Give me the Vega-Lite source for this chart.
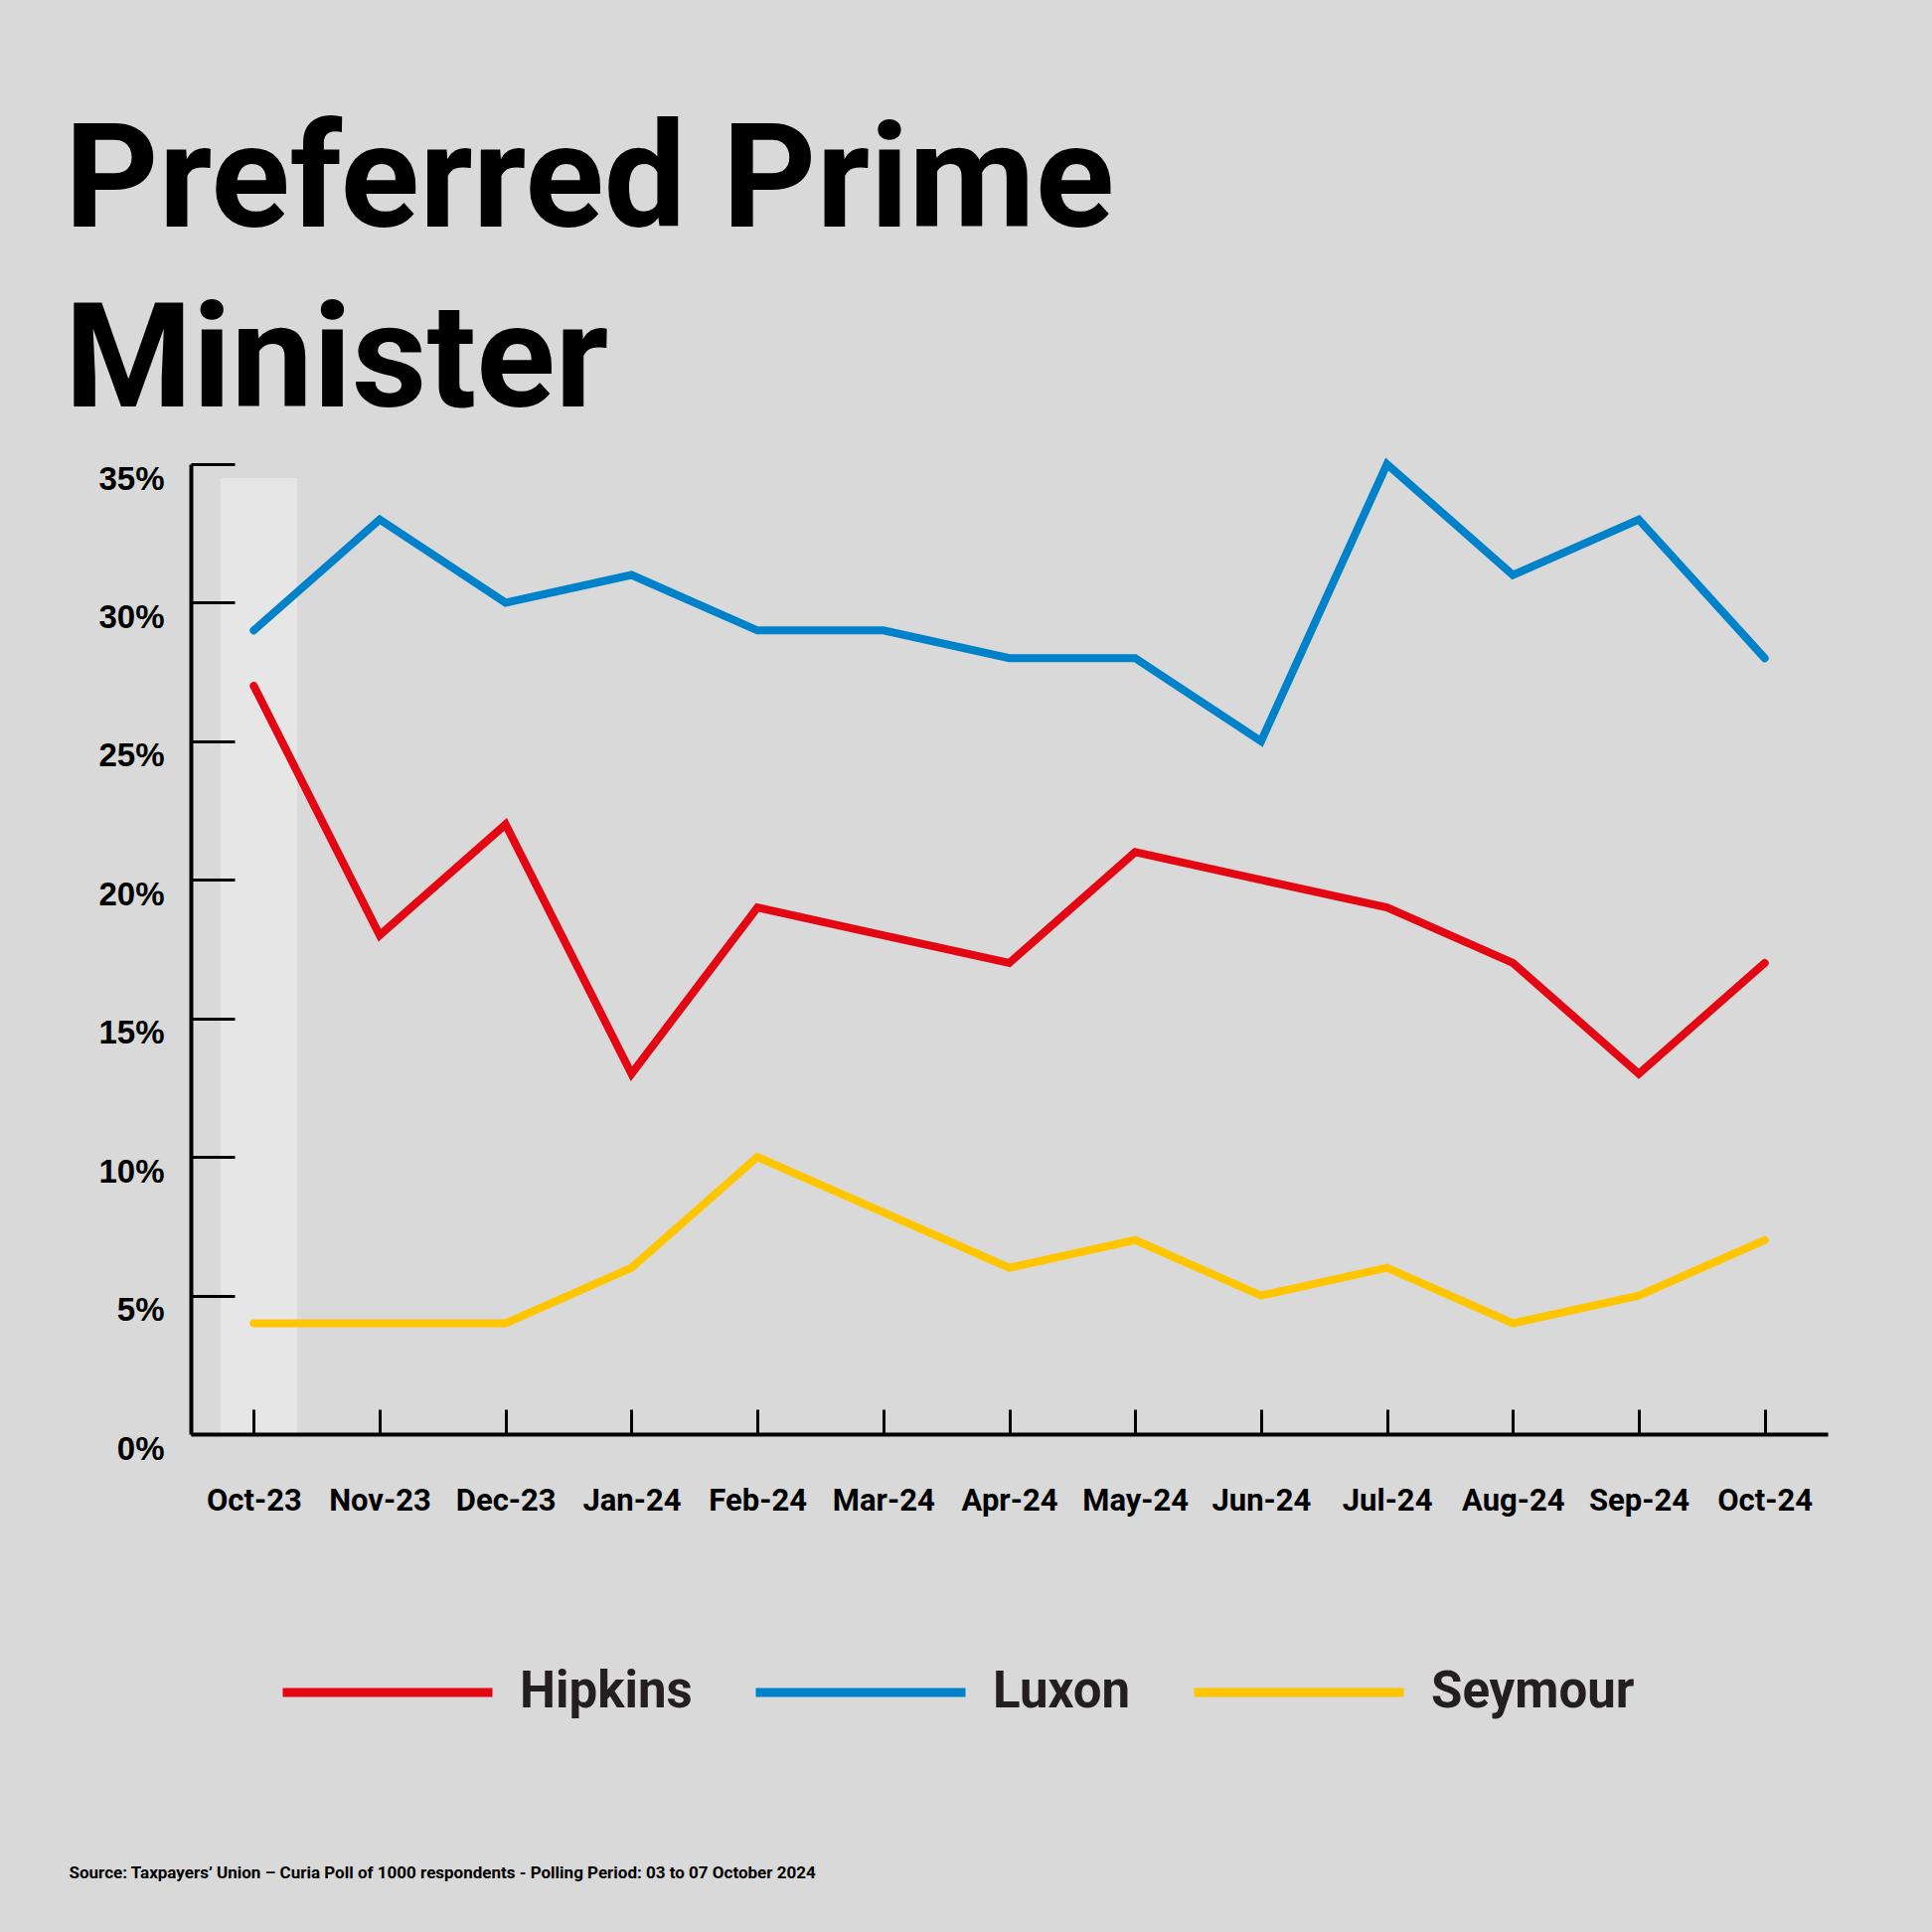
{
  "$schema": "https://vega.github.io/schema/vega-lite/v6.json",
  "width": 1647,
  "height": 976,
  "autosize": {"type": "none"},
  "padding": {"left": 192, "top": 467, "right": 105, "bottom": 501},
  "background": "#d9d9d9",
  "config": {"view": {"stroke": null}},
  "title": {
    "text": ["Preferred Prime", "Minister"],
    "anchor": "start",
    "frame": "group",
    "dx": -127,
    "offset": 0,
    "baseline": "bottom",
    "dy": 136,
    "font": "Roboto",
    "fontSize": 147,
    "fontWeight": "bold",
    "color": "#000000",
    "lineHeight": 181
  },
  "datasets": {
    "highlight": [{"month": "Oct-23", "top": 34.5}],
    "polls": [
      {"month": "Oct-23", "candidate": "Luxon", "pct": 29},
      {"month": "Nov-23", "candidate": "Luxon", "pct": 33},
      {"month": "Dec-23", "candidate": "Luxon", "pct": 30},
      {"month": "Jan-24", "candidate": "Luxon", "pct": 31},
      {"month": "Feb-24", "candidate": "Luxon", "pct": 29},
      {"month": "Mar-24", "candidate": "Luxon", "pct": 29},
      {"month": "Apr-24", "candidate": "Luxon", "pct": 28},
      {"month": "May-24", "candidate": "Luxon", "pct": 28},
      {"month": "Jun-24", "candidate": "Luxon", "pct": 25},
      {"month": "Jul-24", "candidate": "Luxon", "pct": 35},
      {"month": "Aug-24", "candidate": "Luxon", "pct": 31},
      {"month": "Sep-24", "candidate": "Luxon", "pct": 33},
      {"month": "Oct-24", "candidate": "Luxon", "pct": 28},
      {"month": "Oct-23", "candidate": "Hipkins", "pct": 27},
      {"month": "Nov-23", "candidate": "Hipkins", "pct": 18},
      {"month": "Dec-23", "candidate": "Hipkins", "pct": 22},
      {"month": "Jan-24", "candidate": "Hipkins", "pct": 13},
      {"month": "Feb-24", "candidate": "Hipkins", "pct": 19},
      {"month": "Mar-24", "candidate": "Hipkins", "pct": 18},
      {"month": "Apr-24", "candidate": "Hipkins", "pct": 17},
      {"month": "May-24", "candidate": "Hipkins", "pct": 21},
      {"month": "Jun-24", "candidate": "Hipkins", "pct": 20},
      {"month": "Jul-24", "candidate": "Hipkins", "pct": 19},
      {"month": "Aug-24", "candidate": "Hipkins", "pct": 17},
      {"month": "Sep-24", "candidate": "Hipkins", "pct": 13},
      {"month": "Oct-24", "candidate": "Hipkins", "pct": 17},
      {"month": "Oct-23", "candidate": "Seymour", "pct": 4},
      {"month": "Nov-23", "candidate": "Seymour", "pct": 4},
      {"month": "Dec-23", "candidate": "Seymour", "pct": 4},
      {"month": "Jan-24", "candidate": "Seymour", "pct": 6},
      {"month": "Feb-24", "candidate": "Seymour", "pct": 10},
      {"month": "Mar-24", "candidate": "Seymour", "pct": 8},
      {"month": "Apr-24", "candidate": "Seymour", "pct": 6},
      {"month": "May-24", "candidate": "Seymour", "pct": 7},
      {"month": "Jun-24", "candidate": "Seymour", "pct": 5},
      {"month": "Jul-24", "candidate": "Seymour", "pct": 6},
      {"month": "Aug-24", "candidate": "Seymour", "pct": 4},
      {"month": "Sep-24", "candidate": "Seymour", "pct": 5},
      {"month": "Oct-24", "candidate": "Seymour", "pct": 7}
    ]
  },
  "encoding": {
    "x": {
      "field": "month",
      "type": "ordinal",
      "scale": {
        "type": "point",
        "padding": 0.5,
        "domain": ["Oct-23", "Nov-23", "Dec-23", "Jan-24", "Feb-24", "Mar-24", "Apr-24", "May-24", "Jun-24", "Jul-24", "Aug-24", "Sep-24", "Oct-24"]
      },
      "axis": {
        "zindex": 1,
        "title": "Source: Taxpayers’ Union – Curia Poll of 1000 respondents -  Polling Period: 03 to 07 October 2024",
        "titleX": -123,
        "titleY": 446,
        "titleAnchor": "start",
        "titleAlign": "left",
        "titleBaseline": "alphabetic",
        "titleFont": "Roboto",
        "titleFontSize": 17,
        "titleFontWeight": "bold",
        "titleColor": "#000000",
        "labelAngle": 0,
        "labelFont": "Roboto",
        "labelFontSize": 31,
        "labelFontWeight": "bold",
        "labelColor": "#000000",
        "labelBaseline": "top",
        "labelPadding": 77,
        "tickSize": -25,
        "tickWidth": 3,
        "tickColor": "#000000",
        "domainColor": "#000000",
        "domainWidth": 4,
        "grid": false
      }
    }
  },
  "layer": [
    {
      "data": {"name": "highlight"},
      "mark": {"type": "bar", "color": "#e6e6e6", "width": 77, "xOffset": 5},
      "encoding": {
        "y": {"field": "top", "type": "quantitative", "scale": {"domain": [0, 35], "nice": false}}
      }
    },
    {
      "data": {"name": "polls"},
      "mark": {"type": "line", "strokeWidth": 8, "strokeCap": "round", "strokeJoin": "miter"},
      "encoding": {
        "y": {
          "field": "pct",
          "type": "quantitative",
          "scale": {"domain": [0, 35], "nice": false},
          "axis": {
            "zindex": 1,
            "title": null,
            "values": [0, 5, 10, 15, 20, 25, 30, 35],
            "labelExpr": "datum.value + '%'",
            "labelFont": "Liberation Sans",
            "labelFontSize": 33,
            "labelFontWeight": "bold",
            "labelColor": "#000000",
            "labelOffset": 15,
            "labelPadding": 71,
            "tickSize": -44,
            "tickWidth": 3,
            "tickColor": "#000000",
            "domainColor": "#000000",
            "domainWidth": 4,
            "grid": false
          }
        },
        "color": {
          "field": "candidate",
          "type": "nominal",
          "scale": {"domain": ["Hipkins", "Luxon", "Seymour"], "range": ["#e30613", "#0082ca", "#ffc600"]},
          "legend": {
            "title": null,
            "orient": "none",
            "legendX": 88,
            "legendY": 1126,
            "direction": "horizontal",
            "symbolType": "stroke",
            "symbolSize": 44521,
            "symbolStrokeWidth": 9,
            "labelFont": "Roboto",
            "labelFontSize": 51,
            "labelFontWeight": "bold",
            "labelColor": "#231f20",
            "labelOffset": 23,
            "labelLimit": 0,
            "columnPadding": 45,
            "padding": 0
          }
        }
      }
    }
  ]
}
